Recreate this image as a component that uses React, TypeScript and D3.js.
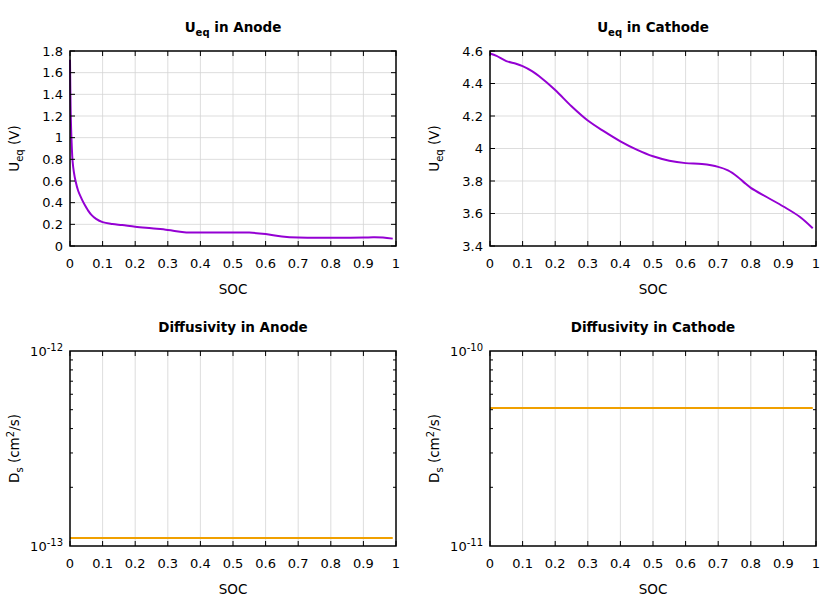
import React from "react";
import * as d3 from "d3";

const socTicks = [0, 0.1, 0.2, 0.3, 0.4, 0.5, 0.6, 0.7, 0.8, 0.9, 1];
const anodeUTicks = [0, 0.2, 0.4, 0.6, 0.8, 1, 1.2, 1.4, 1.6, 1.8];
const cathodeUTicks = [3.4, 3.6, 3.8, 4, 4.2, 4.4, 4.6];

const anodeSoc = [0, 0.002, 0.005, 0.008, 0.012, 0.017, 0.025, 0.035, 0.045, 0.055, 0.065, 0.08, 0.1, 0.13, 0.16, 0.2, 0.25, 0.3, 0.35, 0.4, 0.45, 0.5, 0.55, 0.6, 0.65, 0.7, 0.75, 0.8, 0.85, 0.9, 0.93, 0.96, 0.99];
const anodeU = [1.72, 1.25, 0.95, 0.78, 0.68, 0.6, 0.51, 0.44, 0.38, 0.33, 0.29, 0.25, 0.22, 0.203, 0.193, 0.178, 0.163, 0.148, 0.128, 0.125, 0.125, 0.125, 0.124, 0.11, 0.088, 0.078, 0.077, 0.077, 0.077, 0.078, 0.081, 0.079, 0.068];

const cathodeSoc = [0, 0.02, 0.05, 0.08, 0.1, 0.13, 0.15, 0.2, 0.25, 0.3, 0.35, 0.4, 0.45, 0.5, 0.55, 0.6, 0.65, 0.7, 0.73, 0.76, 0.78, 0.8, 0.85, 0.9, 0.95, 0.99];
const cathodeU = [4.585, 4.57, 4.538, 4.522, 4.507, 4.475, 4.446, 4.36, 4.26, 4.172, 4.105, 4.044, 3.993, 3.952, 3.925, 3.91, 3.904, 3.887, 3.865, 3.825, 3.79, 3.758, 3.7, 3.643, 3.58, 3.509];

const diffSoc = [0, 0.99];
const anodeDs = [1.1e-13, 1.1e-13];
const cathodeDs = [5.1e-11, 5.1e-11];

const PURPLE = "#9400d3";
const ORANGE = "#f0a000";
const FONT = "DejaVu Sans, sans-serif";

type PanelProps = {
  left: number;
  top: number;
  title: React.ReactNode;
  ylabel: React.ReactNode;
  xs: number[];
  ys: number[];
  color: string;
  yTicks?: number[];
  yDomain: [number, number];
  log?: boolean;
  logExps?: number[];
};

function Panel(p: PanelProps) {
  const W = 326;
  const H = 195;
  const x = d3.scaleLinear().domain([0, 1]).range([p.left, p.left + W]);
  const y = p.log
    ? d3.scaleLog().domain(p.yDomain).range([p.top + H, p.top])
    : d3.scaleLinear().domain(p.yDomain).range([p.top + H, p.top]);
  const line = d3
    .line<number>()
    .x((_, i) => x(p.xs[i]))
    .y((d) => y(d))
    .curve(d3.curveCatmullRom.alpha(0.5));
  const bottom = p.top + H;
  const right = p.left + W;
  const fmt = (v: number) => String(+v.toFixed(2));
  const minor = p.log ? (y as d3.ScaleLogarithmic<number, number>).ticks().filter((v) => {
    const l = Math.log10(v);
    return Math.abs(l - Math.round(l)) > 1e-6;
  }) : [];
  return (
    <g fontFamily={FONT}>
      <text x={p.left + W / 2} y={p.top - 19} textAnchor="middle" fontWeight="bold" fontSize={13.5}>
        {p.title}
      </text>
      {socTicks.slice(1, -1).map((t) => (
        <line key={"gx" + t} x1={x(t)} x2={x(t)} y1={p.top} y2={bottom} stroke="#d4d4d4" strokeWidth={0.8} />
      ))}
      {!p.log &&
        p.yTicks!.slice(1, -1).map((t) => (
          <line key={"gy" + t} x1={p.left} x2={right} y1={y(t)} y2={y(t)} stroke="#d4d4d4" strokeWidth={0.8} />
        ))}
      <path d={line(p.ys) || ""} fill="none" stroke={p.color} strokeWidth={2} />
      {socTicks.map((t) => (
        <g key={"tx" + t}>
          <line x1={x(t)} x2={x(t)} y1={bottom} y2={bottom - 5} stroke="#000" strokeWidth={1} />
          <line x1={x(t)} x2={x(t)} y1={p.top} y2={p.top + 5} stroke="#000" strokeWidth={1} />
          <text x={x(t)} y={bottom + 22} textAnchor="middle" fontSize={13}>
            {fmt(t)}
          </text>
        </g>
      ))}
      {!p.log &&
        p.yTicks!.map((t) => (
          <g key={"ty" + t}>
            <line x1={p.left} x2={p.left + 5} y1={y(t)} y2={y(t)} stroke="#000" strokeWidth={1} />
            <line x1={right} x2={right - 5} y1={y(t)} y2={y(t)} stroke="#000" strokeWidth={1} />
            <text x={p.left - 7} y={y(t) + 4.8} textAnchor="end" fontSize={13}>
              {fmt(t)}
            </text>
          </g>
        ))}
      {p.log &&
        minor.map((t) => (
          <g key={"mt" + t}>
            <line x1={p.left} x2={p.left + 3} y1={y(t)} y2={y(t)} stroke="#000" strokeWidth={1} />
            <line x1={right} x2={right - 3} y1={y(t)} y2={y(t)} stroke="#000" strokeWidth={1} />
          </g>
        ))}
      {p.log &&
        p.logExps!.map((e) => (
          <text key={"le" + e} x={p.left - 7} y={y(Math.pow(10, e)) + 4.8} textAnchor="end" fontSize={13}>
            10
            <tspan dy={-5} fontSize={10}>
              {String(e)}
            </tspan>
          </text>
        ))}
      <rect x={p.left} y={p.top} width={W} height={H} fill="none" stroke="#000" strokeWidth={1.5} />
      <text x={p.left + W / 2} y={bottom + 48} textAnchor="middle" fontSize={13.5}>
        SOC
      </text>
      <text transform={`translate(19,${p.top + H / 2}) rotate(-90)`} textAnchor="middle" fontSize={13.5}>
        {p.ylabel}
      </text>
    </g>
  );
}

export default function App() {
  const ueqTitle = (name: string) => (
    <>
      U<tspan dy={4} fontSize={10}>eq</tspan>
      <tspan dy={-4}>{" in " + name}</tspan>
    </>
  );
  const ueqLabel = (
    <>
      U<tspan dy={4} fontSize={10}>eq</tspan>
      <tspan dy={-4}>{" (V)"}</tspan>
    </>
  );
  const dsLabel = (
    <>
      D<tspan dy={4} fontSize={10}>s</tspan>
      <tspan dy={-4}>{" (cm"}</tspan>
      <tspan dy={-5} fontSize={10}>2</tspan>
      <tspan dy={5}>{"/s)"}</tspan>
    </>
  );
  return (
    <svg width={840} height={600} style={{ position: "absolute", left: 0, top: 0, background: "#fff" }}>
      <rect width={840} height={600} fill="#fff" />
      <Panel left={70} top={51} title={ueqTitle("Anode")} ylabel={ueqLabel} xs={anodeSoc} ys={anodeU} color={PURPLE} yTicks={anodeUTicks} yDomain={[0, 1.8]} />
      <g transform="translate(420,0)">
        <Panel left={70} top={51} title={ueqTitle("Cathode")} ylabel={ueqLabel} xs={cathodeSoc} ys={cathodeU} color={PURPLE} yTicks={cathodeUTicks} yDomain={[3.4, 4.6]} />
      </g>
      <Panel left={70} top={351} title="Diffusivity in Anode" ylabel={dsLabel} xs={diffSoc} ys={anodeDs} color={ORANGE} yDomain={[1e-13, 1e-12]} log logExps={[-13, -12]} />
      <g transform="translate(420,0)">
        <Panel left={70} top={351} title="Diffusivity in Cathode" ylabel={dsLabel} xs={diffSoc} ys={cathodeDs} color={ORANGE} yDomain={[1e-11, 1e-10]} log logExps={[-11, -10]} />
      </g>
    </svg>
  );
}
